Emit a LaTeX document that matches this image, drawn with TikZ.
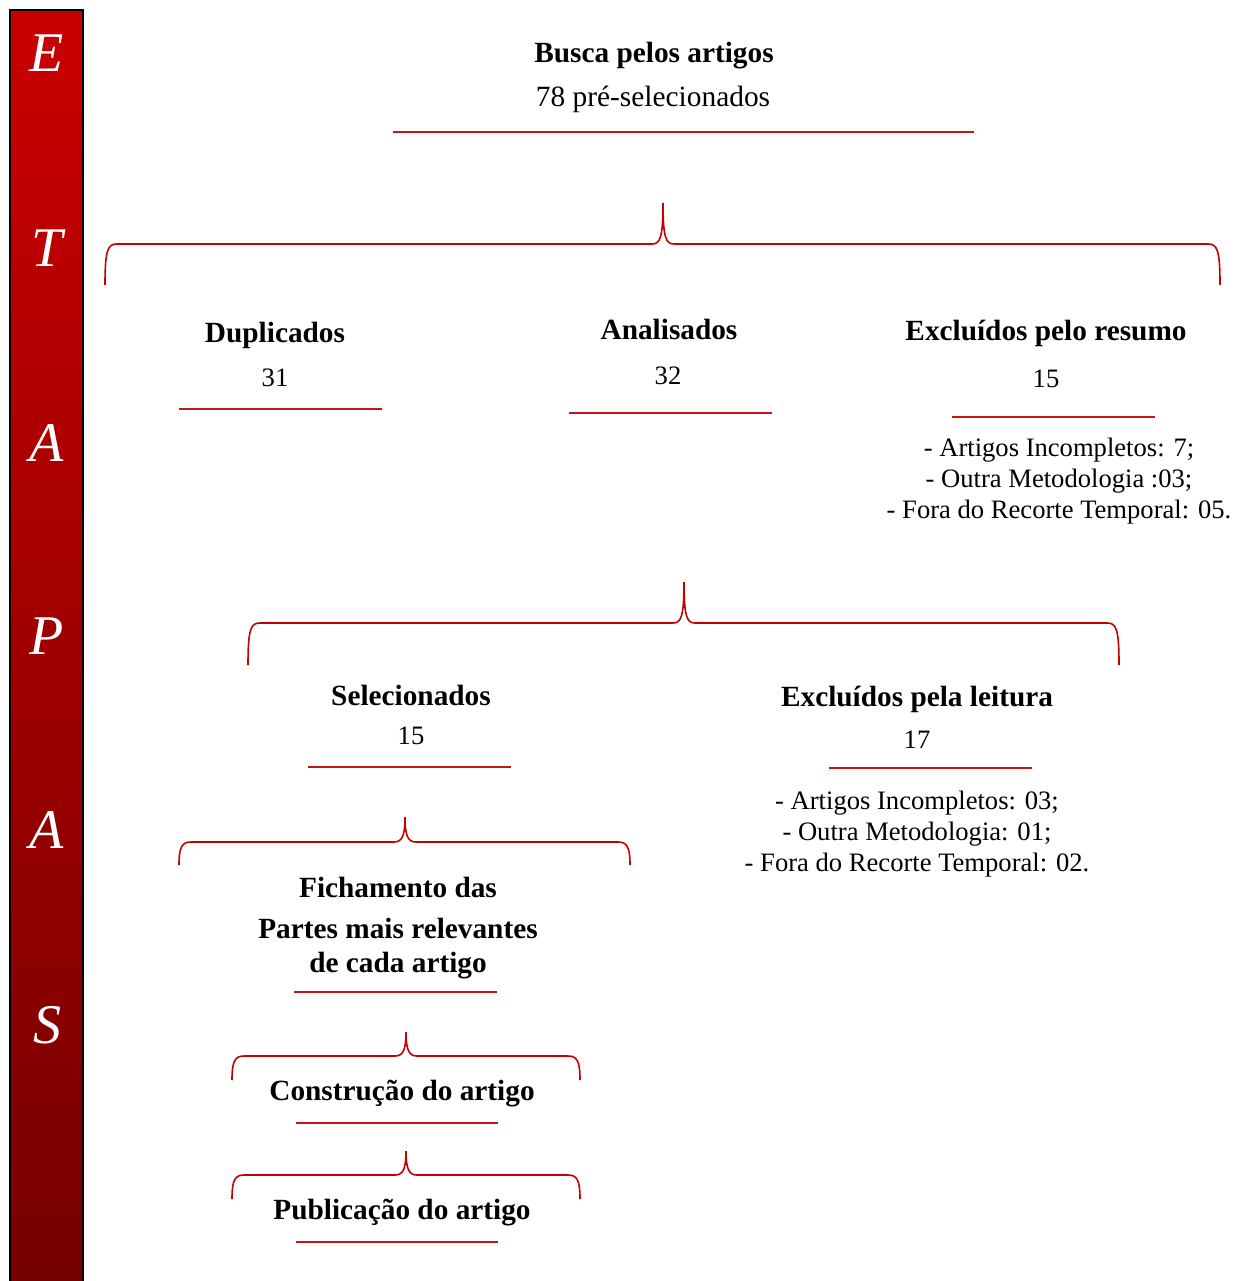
\documentclass[tikz,border=0pt]{standalone}
\usepackage{fontspec}
\setmainfont{Liberation Serif}
\definecolor{bartop}{RGB}{202,0,0}
\definecolor{barbot}{RGB}{118,0,0}
\definecolor{bracered}{RGB}{196,0,0}
\definecolor{linered}{RGB}{200,20,20}
\tikzset{
  bracestyle/.style={draw=bracered,line width=1.6pt},
  underline/.style={draw=linered,line width=1.3pt},
  titletext/.style={inner sep=0pt,yshift=-3pt,font=\fontsize{29.3}{34}\selectfont\bfseries},
  plaintext/.style={inner sep=0pt,yshift=-3pt,font=\fontsize{26.6}{31}\selectfont},
  bigplaintext/.style={inner sep=0pt,yshift=-3pt,font=\fontsize{29.4}{34}\selectfont},
  listtext/.style={inner sep=0pt,yshift=-3pt,align=center,font=\fontsize{26.6}{31}\selectfont},
  barletter/.style={inner sep=0pt,xshift=2pt,text=white,font=\fontsize{56}{60}\selectfont\itshape}
}
% #1 x left, #2 x right, #3 x tip, #4 y tip, #5 y bar, #6 y ends
\newcommand\drawmybrace[6]{%
  \draw[bracestyle] (#1,#6) .. controls (#1,{#5+5}) and ({#1+3},#5) .. ({#1+12},#5)
    -- ({#3-11},#5) .. controls ({#3-3},#5) and (#3,{#5-6}) .. (#3,#4)
    .. controls (#3,{#5-6}) and ({#3+3},#5) .. ({#3+11},#5)
    -- ({#2-12},#5) .. controls ({#2-3},#5) and (#2,{#5+5}) .. (#2,#6);%
}
\begin{document}
\begin{tikzpicture}[x=1pt,y=-1pt]
\useasboundingbox (0,0) rectangle (1243,1281);
% side bar
\shade[top color=bartop,bottom color=barbot] (10,10) rectangle (83,1284);
\draw[black,line width=2pt] (10,1284) -- (10,10) -- (83,10) -- (83,1284);
\node[barletter] (lE) at (45,53) {E};
\node[barletter] (lT) at (45,248) {T};
\node[barletter] (lA1) at (45,443) {A};
\node[barletter] (lP) at (45,636) {P};
\node[barletter] (lA2) at (45,830) {A};
\node[barletter] (lS) at (45,1025) {S};
% top
\node[titletext] (busca) at (654,53) {Busca pelos artigos};
\node[bigplaintext] (busca2) at (653,96) {78 pré-selecionados};
\draw[underline] (393,132) -- (974,132);
\drawmybrace{105}{1220}{663}{203}{244}{285}
% level 2
\node[titletext] (dup) at (275,332) {Duplicados};
\node[plaintext] (dup2) at (275,375) {31};
\draw[underline] (179,409) -- (382,409);
\node[titletext] (ana) at (669,326) {Analisados};
\node[plaintext] (ana2) at (668,373) {32};
\draw[underline] (569,413) -- (772,413);
\node[titletext] (exr) at (1046,330) {Excluídos pelo resumo};
\node[plaintext] (exr2) at (1046,376) {15};
\draw[underline] (952,417) -- (1155,417);
\node[listtext] (exrl) at (1059,478) {- Artigos Incompletos: 7;\\- Outra Metodologia :03;\\- Fora do Recorte Temporal: 05.};
\drawmybrace{248}{1119}{684}{582}{623}{665}
% level 3
\node[titletext] (sel) at (411,692) {Selecionados};
\node[plaintext] (sel2) at (411,733) {15};
\draw[underline] (308,767) -- (511,767);
\node[titletext] (exl) at (917,696) {Excluídos pela leitura};
\node[plaintext] (exl2) at (917,737) {17};
\draw[underline] (829,768) -- (1032,768);
\node[listtext] (exll) at (917,831) {- Artigos Incompletos: 03;\\- Outra Metodologia: 01;\\- Fora do Recorte Temporal: 02.};
\drawmybrace{179}{630}{405}{817}{842}{865}
% fichamento
\node[titletext] (fich1) at (398,884) {Fichamento das};
\node[titletext] (fich2) at (398,925) {Partes mais relevantes};
\node[titletext] (fich3) at (398,963) {de cada artigo};
\draw[underline] (294,992) -- (497,992);
\drawmybrace{232}{580}{406}{1032}{1056}{1080}
\node[titletext] (constr) at (402,1091) {Construção do artigo};
\draw[underline] (296,1123) -- (498,1123);
\drawmybrace{232}{580}{406}{1151}{1175}{1199}
\node[titletext] (publ) at (402,1210) {Publicação do artigo};
\draw[underline] (296,1242) -- (498,1242);
\end{tikzpicture}
\end{document}
